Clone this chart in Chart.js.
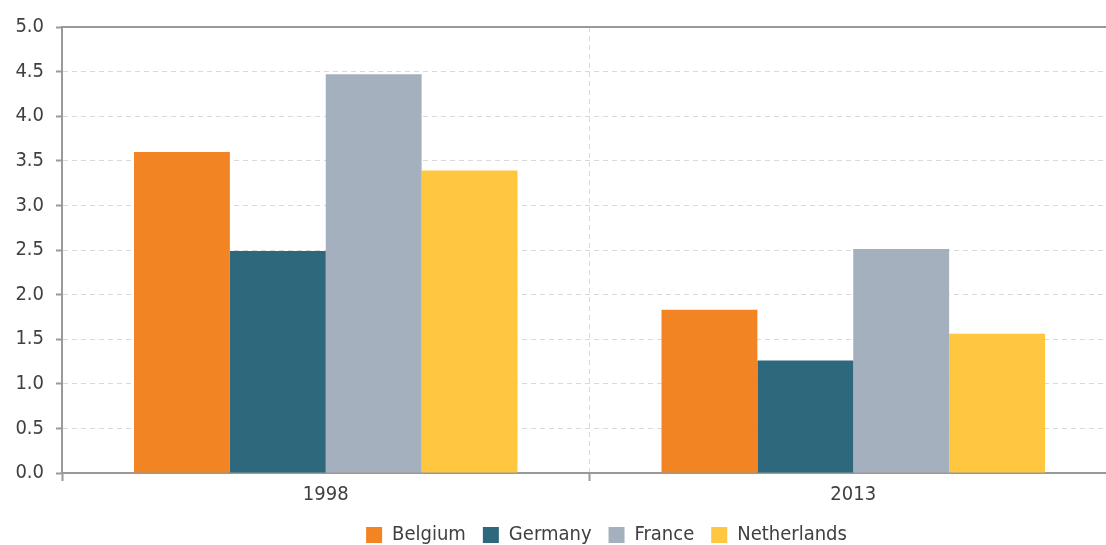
<!DOCTYPE html>
<html>
<head>
<meta charset="utf-8">
<script src="https://cdn.jsdelivr.net/npm/chart.js@4/dist/chart.umd.min.js"></script>
<style>
  html, body { margin: 0; padding: 0; background: #fff; overflow: hidden; }
  #wrap { position: absolute; left: 0; top: 0; width: 1120px; height: 555px; }
</style>
</head>
<body>
<div id="wrap"><canvas id="chart"></canvas></div>
<script>
// Data
const years = ['1998', '2013'];
const countries = ['Belgium', 'Germany', 'France', 'Netherlands'];
const belgium = [3.60, 1.83];
const germany = [2.49, 1.26];
const france = [4.47, 2.51];
const netherlands = [3.39, 1.56];
const colors = ['#F28423', '#2D687D', '#A5B0BE', '#FFC63F'];

const FONT = '"DejaVu Sans Condensed", "DejaVu Sans", sans-serif';
const AXIS_GREY = '#999999';
const GRID_GREY = '#d9d9d9';

// solid line along the top of the plot area
const topLine = {
  id: 'topLine',
  afterDraw(chart) {
    const { ctx, chartArea } = chart;
    ctx.save();
    ctx.strokeStyle = AXIS_GREY;
    ctx.lineWidth = 2;
    ctx.beginPath();
    ctx.moveTo(chartArea.left, chartArea.top);
    ctx.lineTo(chartArea.right, chartArea.top);
    ctx.stroke();
    ctx.restore();
  }
};

// legend sits a bit right of the canvas centre in the original
const legendShift = {
  id: 'legendShift',
  afterLayout(chart) {
    chart.legend.left += 48;
    chart.legend.right += 48;
  }
};

const series = [belgium, germany, france, netherlands];

new Chart(document.getElementById('chart'), {
  type: 'bar',
  data: {
    labels: years,
    datasets: countries.map((name, i) => ({
      label: name,
      data: series[i],
      backgroundColor: colors[i],
      borderWidth: 0
    }))
  },
  options: {
    responsive: true,
    maintainAspectRatio: false,
    animation: false,
    datasets: {
      bar: { categoryPercentage: 0.727, barPercentage: 1.0 }
    },
    layout: { padding: { top: 27, right: 3, left: 0, bottom: 0 } },
    plugins: {
      legend: {
        position: 'bottom',
        labels: {
          boxWidth: 16,
          boxHeight: 16,
          padding: 17,
          color: '#404040',
          font: { family: FONT, size: 20 }
        }
      },
      tooltip: { enabled: false }
    },
    scales: {
      x: {
        afterFit: (scale) => { scale.height = 35; },
        grid: {
          offset: true,
          color: (c) => c.index === 0 ? 'rgba(0,0,0,0)' : GRID_GREY,
          tickColor: AXIS_GREY,
          tickWidth: 2,
          tickLength: 8
        },
        border: { color: AXIS_GREY, width: 2, dash: [5, 4] },
        ticks: {
          padding: 2,
          color: '#404040',
          font: { family: FONT, size: 20 }
        }
      },
      y: {
        min: 0,
        max: 5,
        afterFit: (scale) => { scale.width = 62; },
        grid: {
          color: (c) => (c.tick && (c.tick.value === 5 || c.tick.value === 0)) ? 'rgba(0,0,0,0)' : GRID_GREY,
          tickColor: AXIS_GREY,
          tickWidth: 2,
          tickLength: 6
        },
        border: { color: AXIS_GREY, width: 2, dash: [5, 4] },
        ticks: {
          stepSize: 0.5,
          padding: 12,
          color: '#404040',
          font: { family: FONT, size: 20 },
          callback: (v) => Number(v).toFixed(1)
        }
      }
    }
  },
  plugins: [topLine, legendShift]
});
</script>
</body>
</html>
